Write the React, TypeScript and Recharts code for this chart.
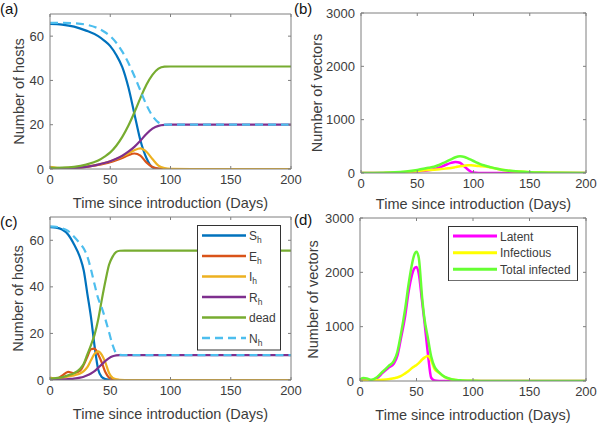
import React from 'react';
import { LineChart, Line, XAxis, YAxis } from 'recharts';

const FRAME = '#7f7f7f';
const INK = '#3c3c3c';
const FONT = '"Liberation Sans", Arial, Helvetica, sans-serif';

// (a) hosts, first scenario
const tA = [0, 10, 20, 30, 40, 45, 50, 55, 60, 65, 70, 75, 80, 85, 90, 95, 100, 125, 150, 175, 200];
const shA = [65.5, 65.2, 64.3, 62.5, 60, 58, 55.5, 51.5, 46, 37, 25, 13, 5, 0.8, 0.1, 0, 0, 0, 0, 0, 0];
const ehA = [0, 0.1, 0.4, 0.9, 1.8, 2.4, 3.1, 4, 5, 6.2, 7, 6, 3, 0.9, 0.2, 0, 0, 0, 0, 0, 0];
const ihA = [1, 0.4, 0.6, 1.1, 2, 2.7, 3.5, 4.5, 5.7, 7, 8.5, 9.3, 7.8, 4.5, 1.5, 0.4, 0.1, 0, 0, 0, 0];
const rhA = [0, 0.2, 0.5, 1, 2, 2.7, 3.5, 4.6, 6, 7.8, 10, 12.8, 15.8, 18.2, 19.5, 19.9, 20, 20, 20, 20, 20];
const deadA = [0.5, 0.6, 1, 2, 3.8, 5.5, 7.5, 10.5, 14.5, 19.5, 25.5, 32, 38, 42.5, 45.3, 46.2, 46.3, 46.3, 46.3, 46.3, 46.3];
const nhA = [66, 66, 65.8, 65.2, 63.5, 62, 60, 57, 53, 48, 42, 35.5, 29, 24, 21, 20, 20, 20, 20, 20, 20];

// (b) vectors, first scenario
const tB = [0, 10, 20, 30, 40, 50, 60, 65, 70, 75, 80, 84, 88, 92, 95, 98, 102, 105, 108, 112, 116, 120, 125, 130, 140, 150, 160, 175, 200];
const latB = [0, 0.5, 2, 6, 15, 32, 50, 70, 105, 150, 190, 207, 192, 120, 65, 22, 5, 2, 1, 0.5, 0, 0, 0, 0, 0, 0, 0, 0, 0];
const infB = [0, 0.5, 2, 6, 18, 38, 55, 63, 72, 82, 95, 110, 125, 138, 145, 143, 138, 132, 125, 118, 100, 82, 60, 46, 26, 14, 7.5, 2.8, 0.5];
const totB = [0, 1, 4, 12, 30, 58, 98, 118, 155, 205, 255, 295, 312, 300, 275, 245, 205, 175, 150, 128, 105, 85, 62, 48, 27, 15, 8, 3, 0.5];

// (c) hosts, second scenario
const tC = [0, 5, 10, 15, 20, 25, 28, 31, 34, 37, 40, 43, 46, 49, 52, 55, 58, 62, 70, 100, 150, 200];
const shC = [65.6, 65.4, 64.6, 62.5, 58.2, 52.5, 47, 37, 27, 14.5, 4.5, 1.3, 0.4, 0.1, 0, 0, 0, 0, 0, 0, 0, 0];
const ehC = [0, 0.3, 1.8, 3.5, 3, 4, 6.5, 10, 13.2, 13.5, 11, 7.5, 3.3, 1, 0.3, 0.05, 0, 0, 0, 0, 0, 0];
const ihC = [1, 0.6, 0.8, 1.5, 2, 2.8, 3.8, 5.5, 8.5, 11.3, 12.3, 10.8, 7.5, 3, 0.9, 0.3, 0.05, 0, 0, 0, 0, 0];
const rhC = [0, 0.05, 0.2, 0.4, 0.6, 1, 1.4, 2, 2.8, 3.8, 5.2, 6.7, 8.2, 9.4, 10.2, 10.6, 10.7, 10.7, 10.7, 10.7, 10.7, 10.7];
const deadC = [0.5, 0.8, 1.2, 2, 2.9, 4.8, 7, 11, 15, 19.5, 26, 34.5, 42.5, 49.5, 53, 55, 55.5, 55.6, 55.6, 55.6, 55.6, 55.6];
const nhC = [66, 65.8, 65.2, 64, 61.5, 58.5, 56.5, 53, 47.5, 41, 35, 31, 26, 20.5, 15, 11.5, 10.8, 10.7, 10.7, 10.7, 10.7, 10.7];

// (d) vectors, second scenario
const tD = [0, 3, 6, 10, 15, 20, 25, 30, 33, 36, 40, 43, 46, 48, 50, 52, 55, 57, 60, 63, 66, 70, 75, 80, 85, 90, 100, 120, 150, 200];
const latD = [10, 35, 30, 10, 50, 150, 240, 320, 460, 760, 1200, 1640, 1950, 2070, 2100, 1980, 1450, 1100, 520, 60, 10, 2, 0, 0, 0, 0, 0, 0, 0, 0];
const infD = [0, 3, 6, 10, 15, 22, 32, 50, 65, 88, 140, 185, 240, 268, 295, 330, 395, 430, 460, 380, 220, 150, 72, 36, 19, 10, 2.5, 0.3, 0, 0];
const totD = [30, 55, 48, 22, 70, 170, 270, 370, 530, 840, 1330, 1780, 2150, 2320, 2380, 2270, 1530, 1150, 800, 450, 260, 160, 75, 38, 20, 11, 3, 0.5, 0, 0];

const xTicks = [0, 50, 100, 150, 200];
const hostTicks = [0, 20, 40, 60];
const vectorTicks = [0, 1000, 2000, 3000];

type Series = { key: string; name: string; sub?: string; color: string; width: number; dash?: string };

const hostSeries: Series[] = [
  { key: 'S', name: 'S', sub: 'h', color: '#0072BD', width: 2.2 },
  { key: 'E', name: 'E', sub: 'h', color: '#D95319', width: 2.2 },
  { key: 'I', name: 'I', sub: 'h', color: '#EDB120', width: 2.2 },
  { key: 'R', name: 'R', sub: 'h', color: '#7E2F8E', width: 2.2 },
  { key: 'D', name: 'dead', color: '#77AC30', width: 2.2 },
  { key: 'N', name: 'N', sub: 'h', color: '#4DBEEE', width: 2.2, dash: '8 5' },
];

const vectorSeries: Series[] = [
  { key: 'lat', name: 'Latent', color: '#ff00ff', width: 2.5 },
  { key: 'inf', name: 'Infectious', color: '#ffff00', width: 2.5 },
  { key: 'tot', name: 'Total infected', color: '#66ff33', width: 2.5 },
];

function rows(t: number[], cols: Record<string, number[]>) {
  return t.map((x, i) => {
    const r: Record<string, number> = { t: x };
    Object.keys(cols).forEach((k) => (r[k] = cols[k][i]));
    return r;
  });
}

const dataA = rows(tA, { S: shA, E: ehA, I: ihA, R: rhA, D: deadA, N: nhA });
const dataB = rows(tB, { lat: latB, inf: infB, tot: totB });
const dataC = rows(tC, { S: shC, E: ehC, I: ihC, R: rhC, D: deadC, N: nhC });
const dataD = rows(tD, { lat: latD, inf: infD, tot: totD });

type PanelProps = {
  left: number;
  top: number;
  data: Record<string, number>[];
  series: Series[];
  yMax: number;
  yTicks: number[];
  yLabel: string;
  yWidth: number;
  xHeight: number;
  mTop: number;
  mRight: number;
  yLabelX: number;
  xLabelOffset: number;
};

function Panel(p: PanelProps) {
  const blank = () => '';
  return (
    <div style={{ position: 'absolute', left: p.left, top: p.top }}>
      <LineChart width={300} height={212} data={p.data} margin={{ top: p.mTop, right: p.mRight, bottom: 0, left: 0 }}>
        <XAxis
          dataKey="t"
          type="number"
          domain={[0, 200]}
          ticks={xTicks}
          interval={0}
          allowDataOverflow
          height={p.xHeight}
          tickSize={-3}
          tickMargin={9}
          axisLine={{ stroke: FRAME }}
          tickLine={{ stroke: FRAME }}
          tick={{ fill: INK, fontSize: 13 }}
          label={{ value: 'Time since introduction (Days)', position: 'insideBottom', offset: p.xLabelOffset, fill: INK, fontSize: 14.5 }}
        />
        <XAxis
          xAxisId="top"
          orientation="top"
          dataKey="t"
          type="number"
          domain={[0, 200]}
          ticks={xTicks}
          interval={0}
          allowDataOverflow
          height={1}
          tickSize={-3}
          tickFormatter={blank}
          axisLine={{ stroke: FRAME }}
          tickLine={{ stroke: FRAME }}
        />
        <YAxis
          type="number"
          domain={[0, p.yMax]}
          ticks={p.yTicks}
          interval={0}
          allowDataOverflow
          width={p.yWidth}
          tickSize={-3}
          tickMargin={9}
          axisLine={{ stroke: FRAME }}
          tickLine={{ stroke: FRAME }}
          tick={{ fill: INK, fontSize: 13 }}
          label={{ value: p.yLabel, angle: -90, position: 'insideLeft', offset: p.yLabelX, fill: INK, fontSize: 14.5, style: { textAnchor: 'middle' } }}
        />
        <YAxis
          yAxisId="r"
          orientation="right"
          type="number"
          domain={[0, p.yMax]}
          ticks={p.yTicks}
          interval={0}
          allowDataOverflow
          width={1}
          tickSize={-3}
          tickFormatter={blank}
          axisLine={{ stroke: FRAME }}
          tickLine={{ stroke: FRAME }}
        />
        {p.series.map((s) => (
          <Line
            key={s.key}
            dataKey={s.key}
            type="monotone"
            stroke={s.color}
            strokeWidth={s.width}
            strokeDasharray={s.dash}
            dot={false}
            activeDot={false}
            isAnimationActive={false}
          />
        ))}
      </LineChart>
    </div>
  );
}

function LegendBox({ left, top, width, rowsY, series }: { left: number; top: number; width: number; rowsY: number[]; series: Series[] }) {
  const height = rowsY[rowsY.length - 1] + rowsY[0] + 1;
  return (
    <svg style={{ position: 'absolute', left, top }} width={width + 1} height={height + 1}>
      <rect x={0.5} y={0.5} width={width} height={height} fill="#fff" stroke="#333" strokeWidth={1} />
      {series.map((s, i) => (
        <g key={s.key}>
          <line x1={5} x2={49} y1={rowsY[i]} y2={rowsY[i]} stroke={s.color} strokeWidth={s.width + 0.5} strokeDasharray={s.dash} />
          <text x={52} y={rowsY[i] + 4.5} fontSize={12} fill={INK}>
            {s.name}
            {s.sub ? (
              <tspan fontSize={8.5} dy={3}>
                {s.sub}
              </tspan>
            ) : null}
          </text>
        </g>
      ))}
    </svg>
  );
}

const tag: React.CSSProperties = { position: 'absolute', fontSize: 15, lineHeight: '17px', color: '#111' };

export default function App() {
  return (
    <div style={{ position: 'absolute', left: 0, top: 0, width: 600, height: 424, background: '#fff', fontFamily: FONT }}>
      <style>{'.recharts-surface { overflow: visible; }'}</style>
      <Panel left={0} top={0} data={dataA} series={hostSeries} yMax={70} yTicks={hostTicks} yLabel="Number of hosts"
        yWidth={50} xHeight={43} mTop={13} mRight={8} yLabelX={19} xLabelOffset={4} />
      <Panel left={300} top={0} data={dataB} series={vectorSeries} yMax={3000} yTicks={vectorTicks} yLabel="Number of vectors"
        yWidth={61} xHeight={39} mTop={12} mRight={13} yLabelX={17} xLabelOffset={3.5} />
      <Panel left={0} top={212} data={dataC} series={hostSeries} yMax={70} yTicks={hostTicks} yLabel="Number of hosts"
        yWidth={50} xHeight={44} mTop={4} mRight={8} yLabelX={18} xLabelOffset={5} />
      <Panel left={300} top={212} data={dataD} series={vectorSeries} yMax={3000} yTicks={vectorTicks} yLabel="Number of vectors"
        yWidth={60} xHeight={43} mTop={5} mRight={13} yLabelX={13} xLabelOffset={4.5} />
      <LegendBox left={197} top={225} width={83} rowsY={[10.5, 31, 51.5, 72, 92.5, 113]} series={hostSeries} />
      <LegendBox left={448} top={226} width={129} rowsY={[10, 26.7, 43.3]} series={vectorSeries} />
      <div style={{ ...tag, left: 0, top: 0 }}>(a)</div>
      <div style={{ ...tag, left: 294, top: 0 }}>(b)</div>
      <div style={{ ...tag, left: 0, top: 213 }}>(c)</div>
      <div style={{ ...tag, left: 294, top: 211 }}>(d)</div>
    </div>
  );
}
